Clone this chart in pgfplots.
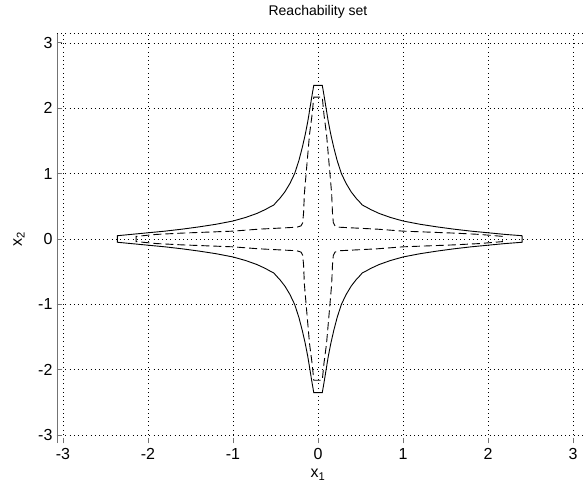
\documentclass[border=0pt]{standalone}
\usepackage{fontspec}
\setmainfont{Liberation Sans}
\usepackage{pgfplots}
\pgfplotsset{compat=1.18}

\begin{document}
\begin{tikzpicture}
\begin{axis}[
    at={(0pt,0pt)}, anchor=south west,
    scale only axis,
    width=528pt, height=410pt,
    xmin=-3.07, xmax=3.14,
    ymin=-3.12, ymax=3.15,
    axis x line*=bottom, axis y line*=left,
    axis line style={-},
    x axis line style={draw=none},
    y axis line style={black!55, line width=0.8pt},
    xtick={-3,-2,-1,0,1,2,3},
    xticklabels={-3,-2,-1,0,1,2,3},
    ytick={-3,-2,-1,0,1,2,3},
    yticklabels={-3,-2,-1,0,1,2,3},
    extra y ticks={3.15},
    extra y tick labels={},
    extra y tick style={major tick length=0pt, grid=major},
    tick align=inside,
    major tick length=5pt,
    tick style={black!55, line width=0.8pt},
    grid=major,
    major grid style={black, line width=0.6pt, dash pattern=on 0.8pt off 3.4pt},
    every tick label/.append style={font=\fontsize{16}{18}\selectfont},
    xticklabel style={yshift=-1.5pt},
    yticklabel style={xshift=-1pt},
    title={Reachability set},
    every axis title/.style={at={(axis description cs:0.4943,1.0512)}, anchor=center, font=\fontsize{14}{16}\selectfont},
    xlabel={x\textsubscript{1}},
    ylabel={x\textsubscript{2}},
    every axis x label/.style={at={(axis description cs:0.4943,-0.0770)}, anchor=center, font=\fontsize{16}{18}\selectfont},
    every axis y label/.style={at={(axis description cs:-0.0720,0.4976)}, anchor=center, rotate=90, font=\fontsize{16}{18}\selectfont},
]
% outer boundary
\addplot[black, line width=0.9pt] coordinates {
(2.40,0.05) (2.20,0.07) (2.00,0.095) (1.80,0.12) (1.60,0.15) (1.40,0.185) (1.20,0.225) (1.00,0.275) (0.85,0.33) (0.72,0.39)
(0.62,0.45) (0.565,0.49) (0.52,0.52) (0.49,0.565) (0.45,0.62) (0.39,0.72) (0.33,0.85) (0.275,1.00) (0.225,1.20) (0.185,1.40) (0.15,1.60) (0.12,1.80)
(0.095,2.00) (0.07,2.20) (0.05,2.35)
(-0.05,2.35) (-0.07,2.20) (-0.095,2.00) (-0.12,1.80) (-0.15,1.60) (-0.185,1.40) (-0.225,1.20) (-0.275,1.00) (-0.33,0.85) (-0.39,0.72)
(-0.45,0.62) (-0.49,0.565) (-0.52,0.52) (-0.565,0.49) (-0.62,0.45) (-0.72,0.39) (-0.85,0.33) (-1.00,0.275) (-1.20,0.225) (-1.40,0.185) (-1.60,0.15) (-1.80,0.12)
(-2.00,0.095) (-2.20,0.07) (-2.36,0.05)
(-2.36,-0.05) (-2.20,-0.07) (-2.00,-0.095) (-1.80,-0.12) (-1.60,-0.15) (-1.40,-0.185) (-1.20,-0.225) (-1.00,-0.275) (-0.85,-0.33) (-0.72,-0.39)
(-0.62,-0.45) (-0.565,-0.49) (-0.52,-0.52) (-0.49,-0.565) (-0.45,-0.62) (-0.39,-0.72) (-0.33,-0.85) (-0.275,-1.00) (-0.225,-1.20) (-0.185,-1.40) (-0.15,-1.60) (-0.12,-1.80)
(-0.095,-2.00) (-0.07,-2.20) (-0.05,-2.35)
(0.05,-2.35) (0.07,-2.20) (0.095,-2.00) (0.12,-1.80) (0.15,-1.60) (0.185,-1.40) (0.225,-1.20) (0.275,-1.00) (0.33,-0.85) (0.39,-0.72)
(0.45,-0.62) (0.49,-0.565) (0.52,-0.52) (0.565,-0.49) (0.62,-0.45) (0.72,-0.39) (0.85,-0.33) (1.00,-0.275) (1.20,-0.225) (1.40,-0.185) (1.60,-0.15) (1.80,-0.12)
(2.00,-0.095) (2.20,-0.07) (2.40,-0.05)
(2.40,0.05)
};
% inner boundary
\addplot[black, line width=0.9pt, dash pattern=on 8pt off 4pt] coordinates {
(2.17,0.04) (1.90,0.07) (1.60,0.09) (1.30,0.105) (1.00,0.12) (0.70,0.15) (0.40,0.17) (0.25,0.18) (0.20,0.20) (0.18,0.25)
(0.17,0.40) (0.16,0.70) (0.14,1.00) (0.12,1.30) (0.10,1.60) (0.07,1.90) (0.05,2.17)
(-0.05,2.17) (-0.07,1.90) (-0.10,1.60) (-0.12,1.30) (-0.14,1.00) (-0.16,0.70) (-0.17,0.40) (-0.18,0.25) (-0.20,0.20) (-0.25,0.18)
(-0.40,0.17) (-0.70,0.15) (-1.00,0.12) (-1.30,0.105) (-1.60,0.09) (-1.90,0.07) (-2.14,0.04)
(-2.14,-0.04) (-1.90,-0.07) (-1.60,-0.09) (-1.30,-0.105) (-1.00,-0.12) (-0.70,-0.15) (-0.40,-0.17) (-0.25,-0.18) (-0.20,-0.20) (-0.18,-0.25)
(-0.17,-0.40) (-0.16,-0.70) (-0.14,-1.00) (-0.12,-1.30) (-0.10,-1.60) (-0.07,-1.90) (-0.05,-2.16)
(0.05,-2.16) (0.07,-1.90) (0.10,-1.60) (0.12,-1.30) (0.14,-1.00) (0.16,-0.70) (0.17,-0.40) (0.18,-0.25) (0.20,-0.20) (0.25,-0.18)
(0.40,-0.17) (0.70,-0.15) (1.00,-0.12) (1.30,-0.105) (1.60,-0.09) (1.90,-0.07) (2.17,-0.04)
(2.17,0.04)
};
\end{axis}
\pgfresetboundingbox
\path (-57pt,-47pt) rectangle (528pt,443pt);
\end{tikzpicture}
\end{document}
